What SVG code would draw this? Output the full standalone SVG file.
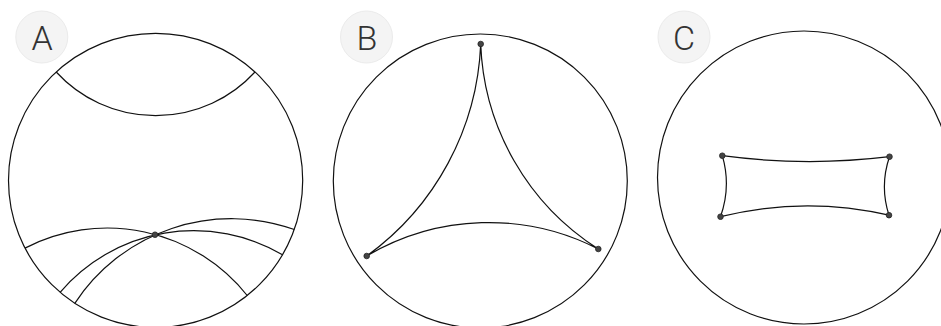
<svg xmlns="http://www.w3.org/2000/svg" width="941" height="326" viewBox="0 0 941 326">
<style>
.disk{fill:none;stroke:#111;stroke-width:1.2}
.geo{fill:none;stroke:#111;stroke-width:1.2}
.pt{fill:#444;stroke:#222;stroke-width:0.8}
.badge{fill:#f4f4f4;stroke:#ebebeb;stroke-width:1}
.lbl{font-family:Roboto,"Liberation Sans",sans-serif;font-weight:300;font-size:34px;fill:#333;text-anchor:middle}
</style>
<rect width="941" height="326" fill="#fff"/>
<g id="panelA">
  <circle class="disk" cx="155.6" cy="180.4" r="147.1"/>
  <g id="badgeA"><circle class="badge" cx="41.8" cy="37" r="26"/><text class="lbl" x="42" y="50">A</text></g>
  <g id="geodesicsA">
    <path class="geo" d="M56.2 72 A134.9 134.9 0 0 0 255 72"/>
    <path class="geo" d="M25 248.1 A178.8 178.8 0 0 1 247.2 295.5"/>
    <path class="geo" d="M60.1 292.3 A175.6 175.6 0 0 1 282.5 254.8"/>
    <path class="geo" d="M74.8 303.3 A187.6 187.6 0 0 1 294.3 229.5"/>
  </g>
  <circle id="pA" class="pt" cx="155" cy="234.7" r="2.8"/>
</g>
<g id="panelB">
  <circle class="disk" cx="480.3" cy="181" r="147"/>
  <g id="badgeB"><circle class="badge" cx="366.5" cy="37" r="26"/><text class="lbl" x="367" y="50">B</text></g>
  <path class="geo" d="M480.7 44 A275.1 275.1 0 0 1 366.7 256 A239.6 239.6 0 0 1 598.3 249 A253.9 253.9 0 0 1 480.7 44"/>
  <circle class="pt" cx="480.7" cy="44" r="2.8"/>
  <circle class="pt" cx="366.7" cy="256" r="2.8"/>
  <circle class="pt" cx="598.3" cy="249" r="2.8"/>
</g>
<g id="panelC">
  <circle class="disk" cx="804" cy="177.5" r="146.5"/>
  <g id="badgeC"><circle class="badge" cx="684" cy="37" r="26"/><text class="lbl" x="684" y="50">C</text></g>
  <path class="geo" d="M722.3 155.7 A662.1 662.1 0 0 0 889.5 156.7 A92.5 92.5 0 0 0 889 215.2 A362.1 362.1 0 0 0 720.5 216.7 A98.9 98.9 0 0 0 722.3 155.7"/>
  <circle class="pt" cx="722.3" cy="155.7" r="2.8"/>
  <circle class="pt" cx="889.5" cy="156.7" r="2.8"/>
  <circle class="pt" cx="889" cy="215.2" r="2.8"/>
  <circle class="pt" cx="720.5" cy="216.7" r="2.8"/>
</g>
</svg>
